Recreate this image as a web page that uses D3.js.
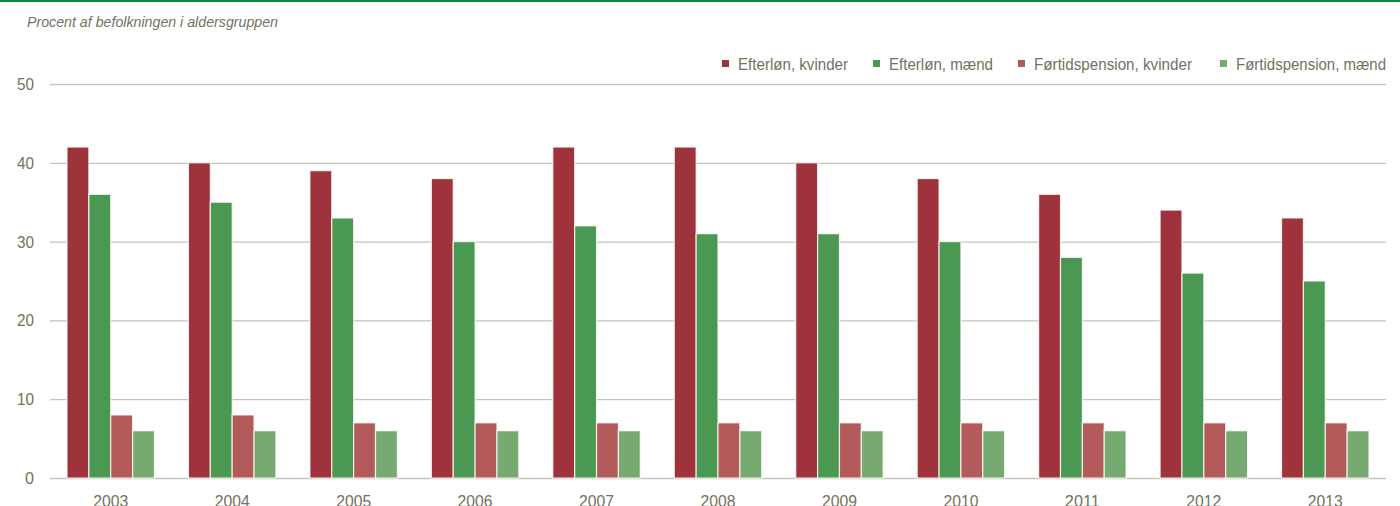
<!DOCTYPE html>
<html>
<head>
<meta charset="utf-8">
<script src="https://cdn.jsdelivr.net/npm/d3@7"></script>
<style>
  html, body { margin: 0; padding: 0; background: #fff; }
  svg { display: block; font-family: "Liberation Sans Narrow", "Arial Narrow", "Liberation Sans", sans-serif; }
  .axis-tick-text { fill: #72725f; font-size: 17px; }
  .legend-text { fill: #72725f; font-size: 17px; }
  .title-text { fill: #72725f; font-size: 15px; font-style: italic; }
</style>
</head>
<body>
<svg id="chart" width="1400" height="506"></svg>
<script>
(function () {
  const years = ['2003', '2004', '2005', '2006', '2007', '2008', '2009', '2010', '2011', '2012', '2013'];
  const seriesNames = ['Efterløn, kvinder', 'Efterløn, mænd', 'Førtidspension, kvinder', 'Førtidspension, mænd'];
  const efterlonKvinder = [42, 40, 39, 38, 42, 42, 40, 38, 36, 34, 33];
  const efterlonMaend = [36, 35, 33, 30, 32, 31, 31, 30, 28, 26, 25];
  const fortidKvinder = [8, 8, 7, 7, 7, 7, 7, 7, 7, 7, 7];
  const fortidMaend = [6, 6, 6, 6, 6, 6, 6, 6, 6, 6, 6];
  const yTicks = [0, 10, 20, 30, 40, 50];
  const colors = ['#9e333b', '#4a9852', '#b35a5a', '#77aa71'];

  const WIDTH = 1400;
  const MARGIN_LEFT = 50;
  const MARGIN_RIGHT = 14;
  const MARGIN_TOP = 84;
  const PLOT_BOTTOM = 478;

  const svg = d3.select('#chart');

  // top rule
  svg.append('rect')
    .attr('x', 0).attr('y', 0)
    .attr('width', WIDTH).attr('height', 2)
    .attr('fill', '#0a8a3c');

  // narrow font is missing, so squeeze the texts to the widths in the picture
  svg.append('text')
    .attr('class', 'title-text')
    .attr('x', 27).attr('y', 27)
    .attr('textLength', 251)
    .attr('lengthAdjust', 'spacingAndGlyphs')
    .text('Procent af befolkningen i aldersgruppen');

  const xScale = d3.scaleBand()
    .domain(years)
    .range([MARGIN_LEFT, WIDTH - MARGIN_RIGHT])
    .paddingInner(0.28)
    .paddingOuter(0.14);

  const xSub = d3.scaleBand()
    .domain(d3.range(seriesNames.length))
    .range([0, xScale.bandwidth()]);

  const yScale = d3.scaleLinear()
    .domain([0, 50])
    .range([PLOT_BOTTOM, MARGIN_TOP]);

  // y axis with gridlines
  const yAxis = d3.axisLeft(yScale)
    .tickValues(yTicks)
    .tickSize(-(WIDTH - MARGIN_RIGHT - MARGIN_LEFT))
    .tickPadding(16);

  const yAxisGroup = svg.append('g')
    .attr('transform', `translate(${MARGIN_LEFT},0)`)
    .call(yAxis);
  yAxisGroup.select('.domain').remove();
  yAxisGroup.selectAll('.tick line')
    .attr('stroke', '#c5c5b8')
    .attr('stroke-width', 1.3);
  yAxisGroup.selectAll('.tick text')
    .attr('class', 'axis-tick-text')
    .attr('textLength', d => d === 0 ? 9 : 17)
    .attr('lengthAdjust', 'spacingAndGlyphs');

  // bars
  const allSeries = [efterlonKvinder, efterlonMaend, fortidKvinder, fortidMaend];
  const groups = svg.append('g').selectAll('g')
    .data(years)
    .join('g')
    .attr('transform', d => `translate(${xScale(d)},0)`);

  groups.selectAll('rect')
    .data((year, i) => allSeries.map((s, k) => ({ k, value: s[i] })))
    .join('rect')
    .attr('x', d => xSub(d.k))
    .attr('y', d => yScale(d.value))
    .attr('width', xSub.bandwidth())
    .attr('height', d => PLOT_BOTTOM - yScale(d.value))
    .attr('fill', d => colors[d.k])
    .attr('stroke', '#fff')
    .attr('stroke-opacity', 0.8)
    .attr('stroke-width', 1.2);

  // x axis labels (cut by the bottom edge, as in the original)
  const xAxis = d3.axisBottom(xScale).tickSize(0).tickPadding(17);
  const xAxisGroup = svg.append('g')
    .attr('transform', `translate(0,${PLOT_BOTTOM})`)
    .call(xAxis);
  xAxisGroup.select('.domain').remove();
  xAxisGroup.selectAll('.tick text')
    .attr('class', 'axis-tick-text')
    .attr('textLength', 35)
    .attr('lengthAdjust', 'spacingAndGlyphs');

  // legend
  const legendX = [722, 873, 1018, 1220];
  const legendW = [110, 104, 158, 150];
  const legend = svg.append('g').selectAll('g')
    .data(seriesNames)
    .join('g')
    .attr('transform', (d, i) => `translate(${legendX[i]},70)`);
  legend.append('rect')
    .attr('x', 0).attr('y', -10)
    .attr('width', 7).attr('height', 7)
    .attr('fill', (d, i) => colors[i]);
  legend.append('text')
    .attr('class', 'legend-text')
    .attr('x', 16).attr('y', 0)
    .attr('textLength', (d, i) => legendW[i])
    .attr('lengthAdjust', 'spacingAndGlyphs')
    .text(d => d);
})();
</script>
</body>
</html>
